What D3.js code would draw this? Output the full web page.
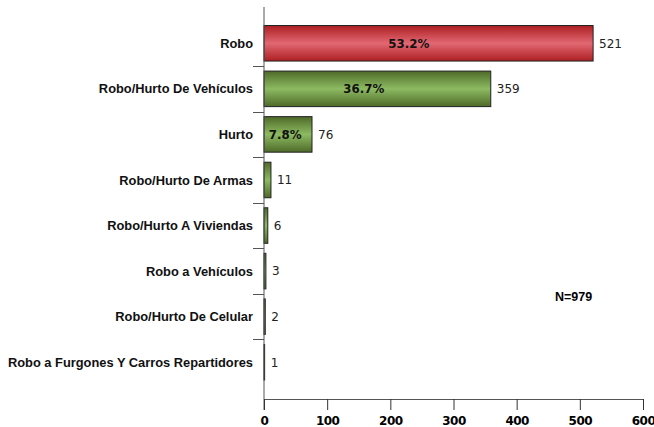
<!DOCTYPE html>
<html><head><meta charset="utf-8">
<script src="https://cdn.jsdelivr.net/npm/d3@7"></script>
<style>body{margin:0;background:#fff}svg{display:block}</style>
</head><body>
<script>
const categories = ["Robo","Robo/Hurto De Vehículos","Hurto","Robo/Hurto De Armas","Robo/Hurto A Viviendas","Robo a Vehículos","Robo/Hurto De Celular","Robo a Furgones Y Carros Repartidores"];
const values = [521,359,76,11,6,3,2,1];
const percents = ["53.2%","36.7%","7.8%",null,null,null,null,null];
const highlight = [true,false,false,false,false,false,false,false];
const xTicks = [0,100,200,300,400,500,600];
const totalLabel = "N=979";

const W=654,H=427;
const svg=d3.select("body").append("svg").attr("width",W).attr("height",H);
const defs=svg.append("defs");
function grad(id,edge,mid){
  const g=defs.append("linearGradient").attr("id",id).attr("x1",0).attr("y1",0).attr("x2",0).attr("y2",1);
  g.append("stop").attr("offset","0%").attr("stop-color",edge);
  g.append("stop").attr("offset","50%").attr("stop-color",mid);
  g.append("stop").attr("offset","100%").attr("stop-color",edge);
}
grad("gRed","#ad1f22","#e26872");
grad("gGreen","#4e6a28","#8dba62");

const x=d3.scaleLinear().domain([0,600]).range([264,643]);
const y=d3.scaleBand().domain(categories).range([20.5,385]).paddingInner(0.22).paddingOuter(0.11);
const axisY0=7, axisX=399;

// bars
svg.selectAll("rect.bar").data(categories).join("rect")
  .attr("x",x(0)).attr("y",d=>y(d))
  .attr("width",(d,i)=>x(values[i])-x(0)).attr("height",y.bandwidth())
  .attr("fill",(d,i)=>highlight[i]?"url(#gRed)":"url(#gGreen)")
  .attr("stroke","#222").attr("stroke-width",1);

// y axis
svg.append("line").attr("x1",x(0)).attr("x2",x(0)).attr("y1",axisY0).attr("y2",axisX+11).attr("stroke","#555").attr("stroke-width",1);
const step=y.step(), pin=y.paddingInner();
categories.slice(1).forEach(d=>{
  const ty=Math.round(y(d)-step*pin/2)+0.5;
  svg.append("line").attr("x1",x(0)-11).attr("x2",x(0)).attr("y1",ty).attr("y2",ty).attr("stroke","#555");
});
// x axis
const xa=svg.append("g").attr("transform",`translate(0,${axisX})`)
  .call(d3.axisBottom(x).tickValues(xTicks).tickSize(11).tickPadding(6).tickFormat(d3.format("d")));
xa.select(".domain").attr("stroke","#555").attr("d",`M${x(0)},0.5H${x(600)}`);
xa.selectAll(".tick line").attr("stroke","#333");
xa.selectAll(".tick text").attr("fill","#000").style("font-family","'DejaVu Sans'").style("font-weight","bold").style("font-size","12px").style("letter-spacing","-0.5px");

// category labels
svg.selectAll("text.cat").data(categories).join("text")
  .attr("x",253).attr("y",d=>y(d)+y.bandwidth()/2).attr("dy","0.36em")
  .attr("text-anchor","end").attr("fill","#111")
  .style("font-family","'Liberation Sans',Arial,sans-serif").style("font-weight","bold").style("font-size","12.85px")
  .text(d=>d);

// value labels
svg.selectAll("text.val").data(categories).join("text")
  .attr("x",(d,i)=>x(values[i])+6).attr("y",d=>y(d)+y.bandwidth()/2).attr("dy","0.36em")
  .style("font-family","'DejaVu Sans'").style("font-size","12px").attr("fill","#222")
  .text((d,i)=>values[i]);

// percent labels
svg.selectAll("text.pct").data(categories.filter((d,i)=>percents[i])).join("text")
  .attr("x",(d)=>{const i=categories.indexOf(d);return x(0)+0.44*(x(values[i])-x(0));})
  .attr("y",d=>y(d)+y.bandwidth()/2).attr("dy","0.36em").attr("text-anchor","middle")
  .style("font-family","'DejaVu Sans'").style("font-weight","bold").style("font-size","11.8px").attr("fill","#111")
  .text(d=>percents[categories.indexOf(d)]);

svg.append("text").attr("x",555).attr("y",297).attr("dy","0.35em")
  .style("font-family","'Liberation Sans',Arial,sans-serif").style("font-weight","bold").style("font-size","12.5px")
  .text(totalLabel);
</script>
</body></html>
